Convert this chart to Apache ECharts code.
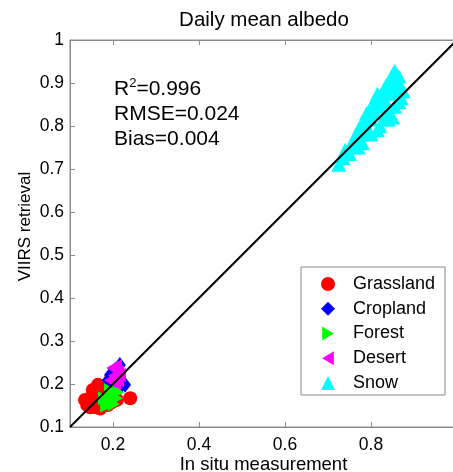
<!DOCTYPE html>
<html>
<head>
<meta charset="utf-8">
<script src="https://cdn.jsdelivr.net/npm/echarts@6/dist/echarts.min.js"></script>
<style>
  html, body { margin: 0; padding: 0; background: #fff; }
  #chart { width: 453px; height: 472px; }
</style>
</head>
<body>
<div id="chart"></div>
<script>
const FONT = 'Liberation Sans, Arial, sans-serif';

const xTicks = [0.2, 0.4, 0.6, 0.8, 1];
const xLabels = [0.2, 0.4, 0.6, 0.8];
const statLines = ['=0.996', 'RMSE=0.024', 'Bias=0.004'];

// [in situ, VIIRS]
const grassland = [
  [0.140, 0.151], [0.147, 0.167], [0.158, 0.158], [0.153, 0.186], [0.170, 0.174],
  [0.165, 0.198], [0.177, 0.151], [0.188, 0.151], [0.198, 0.158], [0.135, 0.163],
  [0.147, 0.146], [0.160, 0.146], [0.181, 0.191], [0.240, 0.167], [0.209, 0.163],
  [0.170, 0.143]
];
const cropland = [
  [0.193, 0.221], [0.205, 0.233], [0.216, 0.228], [0.221, 0.198], [0.228, 0.198],
  [0.198, 0.198], [0.188, 0.209], [0.209, 0.209], [0.216, 0.244]
];
const forest = [
  [0.179, 0.167], [0.188, 0.158], [0.198, 0.172], [0.202, 0.153], [0.209, 0.167],
  [0.193, 0.186], [0.184, 0.150], [0.212, 0.181], [0.188, 0.151]
];
const desert = [
  [0.198, 0.237], [0.207, 0.242], [0.212, 0.228], [0.202, 0.219], [0.212, 0.209],
  [0.193, 0.209], [0.205, 0.202], [0.216, 0.221]
];
const snow = [
  [0.725, 0.710], [0.735, 0.725], [0.740, 0.745], [0.750, 0.735], [0.755, 0.760],
  [0.760, 0.750], [0.765, 0.780], [0.770, 0.765], [0.775, 0.800], [0.780, 0.785],
  [0.785, 0.810], [0.790, 0.795], [0.790, 0.830], [0.800, 0.815], [0.800, 0.845],
  [0.810, 0.830], [0.810, 0.860], [0.815, 0.875], [0.820, 0.845], [0.825, 0.865],
  [0.830, 0.880], [0.835, 0.855], [0.835, 0.895], [0.840, 0.875], [0.845, 0.905],
  [0.850, 0.890], [0.850, 0.920], [0.855, 0.928], [0.860, 0.905], [0.860, 0.875],
  [0.865, 0.915], [0.870, 0.890], [0.870, 0.865], [0.875, 0.880], [0.865, 0.855],
  [0.855, 0.845], [0.840, 0.830], [0.830, 0.815], [0.820, 0.800], [0.780, 0.760],
  [0.770, 0.750], [0.815, 0.790], [0.800, 0.780], [0.850, 0.820], [0.840, 0.815]
];
const oneToOne = [[0.1, 0.1], [1, 1]];

const chart = echarts.init(document.getElementById('chart'), null, { renderer: 'canvas' });

const axisGray = '#8a8a8a';
const scat = (name, data, symbol, size, color) => ({
  name, type: 'scatter', data, symbol, symbolSize: size,
  itemStyle: { color, opacity: 1 }, emphasis: { disabled: true }
});

chart.setOption({
  animation: false,
  backgroundColor: '#fff',
  textStyle: { fontFamily: FONT },
  title: {
    text: 'Daily mean albedo', left: 259, top: 5, textAlign: 'center',
    textStyle: { fontFamily: FONT, fontSize: 20.5, fontWeight: 'normal', color: '#000' }
  },
  grid: {
    left: 70, top: 40, right: -4, bottom: 45,
    outerBoundsMode: 'none', containLabel: false,
    show: true, borderColor: axisGray, borderWidth: 1
  },
  xAxis: [{
    type: 'value', min: 0.1, max: 1,
    name: 'In situ measurement', nameLocation: 'middle', nameGap: 28, nameMoveOverlap: false,
    nameTextStyle: { fontFamily: FONT, fontSize: 18.5, color: '#000' },
    axisLine: { lineStyle: { color: axisGray } },
    axisTick: { inside: true, length: 5, customValues: xTicks, lineStyle: { color: axisGray } },
    axisLabel: { customValues: xLabels, fontFamily: FONT, fontSize: 17.5, color: '#000', margin: 9,
      formatter: v => String(+v.toFixed(1)) },
    splitLine: { show: false }
  }, {
    type: 'value', min: 0.1, max: 1, position: 'top',
    axisLine: { lineStyle: { color: axisGray } },
    axisTick: { inside: true, length: 5, customValues: xTicks, lineStyle: { color: axisGray } },
    axisLabel: { show: false }, splitLine: { show: false }
  }],
  yAxis: {
    type: 'value', min: 0.1, max: 1, interval: 0.1,
    name: 'VIIRS retrieval', nameLocation: 'middle', nameGap: 36, nameRotate: 90, nameMoveOverlap: false,
    nameTextStyle: { fontFamily: FONT, fontSize: 17, color: '#000', padding: [0, 0, 0, 14] },
    axisLine: { lineStyle: { color: axisGray } },
    axisTick: { inside: true, length: 5, lineStyle: { color: axisGray } },
    axisLabel: { fontFamily: FONT, fontSize: 17.5, color: '#000', margin: 6,
      formatter: v => String(+v.toFixed(1)) },
    splitLine: { show: false }
  },
  legend: {
    orient: 'vertical', left: 301, top: 267,
    padding: [8, 10, 3, 20], itemGap: 6.75, itemWidth: 14, itemHeight: 14,
    backgroundColor: '#fff', borderColor: axisGray, borderWidth: 1,
    textStyle: { fontFamily: FONT, fontSize: 18, color: '#000', padding: [0, 0, 0, 13], lineHeight: 16 },
    data: ['Grassland', 'Cropland', 'Forest', 'Desert', 'Snow']
  },
  graphic: [{
    type: 'text', left: 114, top: 77,
    style: {
      text: '{a|R}{s|2}{a|' + statLines[0] + '}\n{a|' + statLines[1] + '}\n{a|' + statLines[2] + '}',
      rich: {
        a: { fontFamily: FONT, fontSize: 21, fill: '#000', lineHeight: 25 },
        s: { fontFamily: FONT, fontSize: 13, fill: '#000', verticalAlign: 'top', lineHeight: 25, padding: [0, 0, 9, 0] }
      }
    }
  }],
  series: [
    scat('Grassland', grassland, 'circle', 14, '#ff0000'),
    scat('Cropland', cropland, 'diamond', [12, 16], '#0000ff'),
    scat('Forest', forest, 'path://M0,0L10,6L0,12Z', [12, 14], '#00ff00'),
    scat('Desert', desert, 'path://M10,0L0,6L10,12Z', [12, 14], '#ff00ff'),
    scat('Snow', snow, 'triangle', [15, 14], '#00ffff'),
    {
      type: 'line', data: oneToOne, symbol: 'none', z: 10, silent: true,
      lineStyle: { color: '#000', width: 2 }
    }
  ]
});
</script>
</body>
</html>
